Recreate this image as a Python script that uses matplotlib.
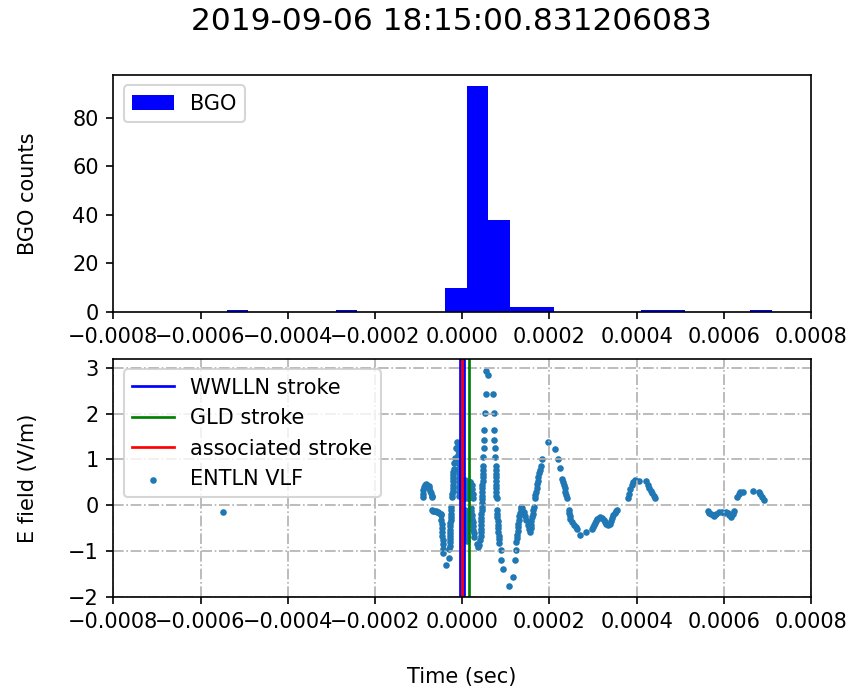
import matplotlib
matplotlib.use("Agg")
import matplotlib.pyplot as plt
import numpy as np

# ---------------- data ----------------
title_text = "2019-09-06 18:15:00.831206083"

# BGO histogram (bin left edges in seconds, counts)
bgo_bin_left = [-5.4e-4, -2.9e-4, -4e-5, 1e-5, 6e-5, 1.1e-4, 1.6e-4, 4.1e-4, 4.6e-4, 6.6e-4]
bgo_bin_width = 5e-5
bgo_counts = [1, 1, 10, 93, 38, 2, 2, 1, 1, 1]

# stroke times (seconds, relative)
wwlln_times = [-4.6e-6, 5.0e-6]
gld_times = [1.49e-5]
assoc_times = [0.0]

# ENTLN VLF E-field samples: time (microseconds) and value (V/m)
entln_t_us = [
    -548,
    -90, -89.5, -89, -88, -86, -83, -80, -77, -75, -73, -71, -69, -68,
    -69, -67, -64, -61, -58, -55, -52, -49,
    -48, -47.5, -47, -46.5, -46, -45.5, -45, -44.5, -44, -43.5, -38, -30, -30,
    -29, -29, -28.5, -28, -28, -27.5, -27, -27, -26.5, -26, -26, -25.5, -25,
    -23, -22.5, -22, -22, -21.5, -21, -21, -20.5, -20, -19.5, -18, -17, -14, -12,
    -9, -9, -8.5, -8.5, -8, -8, -8, -7.5, -7.5, -7, -7, -7,
    6, 6, 6.5, 7, 7, 7.5, 8, 8, 8.5, 9, 9, 9.5, 10, 10,
    14, 14, 14.5, 15, 17, 19, 22, 23, 24, 24.5,
    20, 21, 22, 23, 24, 25, 26, 27, 28, 33, 36, 39,
    42, 42.3, 42.6, 42.9, 43.2, 43.5, 43.8, 44.1, 44.4, 44.7, 45, 45.3, 45.6, 45.9,
    46.2, 46.5, 46.8, 47.1, 47.4, 47.7, 48,
    48.5, 49, 49.5, 50, 53, 54, 55, 59,
    70, 72, 73, 74, 75, 76,
    77, 77.2, 77.4, 77.6, 77.8, 78, 78.2, 78.4, 78.6, 78.8,
    80, 80.5, 81, 81.5, 82, 82.5, 83, 83.5, 84, 84.5,
    88, 90, 94, 107.5, 116.7, 120.6, 123,
    124, 125, 126, 127, 128, 129, 130, 131, 132, 134, 136,
    138, 141, 144, 147, 150, 153, 155,
    157, 158, 159, 160, 162, 163, 165,
    167, 168, 170, 171, 172, 174, 175, 176, 178, 180, 183, 198,
    212, 220, 224, 229, 231, 233, 235, 237, 239, 241, 245, 246, 247, 248, 252, 256,
    260, 263, 271, 283,
    298, 300, 302, 304, 306, 309, 313, 317, 321, 325, 328, 331, 334, 338, 341, 344,
    347, 350, 353, 356,
    380, 383, 386, 389, 392, 396, 405, 422, 426, 429, 432, 435, 439, 442,
    563, 567, 571, 575, 578, 582, 590, 595, 600, 605, 609, 613, 617, 620, 624,
    631, 634, 638, 645, 666, 681, 684, 688, 692,
]
entln_v = [
    -0.15,
    0.17, 0.25, 0.33, 0.40, 0.44, 0.46, 0.45, 0.43, 0.38, 0.32, 0.26, 0.20, 0.17,
    -0.10, -0.12, -0.12, -0.13, -0.14, -0.15, -0.17, -0.19,
    -0.22, -0.31, -0.40, -0.49, -0.58, -0.67, -0.76, -0.85, -0.95, -1.05, -1.30, -1.16, -0.95,
    -0.88, -0.81, -0.74, -0.67, -0.60, -0.53, -0.46, -0.39, -0.32, -0.25, -0.18, -0.11, -0.04,
    0.17, 0.24, 0.31, 0.38, 0.45, 0.52, 0.59, 0.66, 0.73, 0.80, 0.92, 1.03, 1.24, 1.38,
    1.30, 1.20, 1.10, 1.00, 0.90, 0.80, 0.70, 0.60, 0.50, 0.40, 0.30, 0.20,
    0.55, 0.45, 0.35, 0.25, 0.15, -0.10, -0.18, -0.26, -0.34, -0.42, -0.50, -0.58, -0.66, -0.78,
    0.15, 0.25, 0.35, 0.45, 0.51, 0.51, 0.45, 0.35, 0.25, 0.15,
    -0.05, -0.13, -0.21, -0.29, -0.37, -0.45, -0.53, -0.61, -0.69, -0.84, -0.91, -0.86,
    -0.75, -0.67, -0.59, -0.51, -0.43, -0.35, -0.27, -0.19, -0.11, -0.03, 0.05, 0.13, 0.21, 0.29,
    0.37, 0.45, 0.53, 0.61, 0.69, 0.77, 0.85,
    1.05, 1.24, 1.42, 1.64, 2.02, 2.42, 2.93, 2.84,
    2.42, 2.02, 1.64, 1.42, 1.24, 1.05,
    0.85, 0.77, 0.69, 0.61, 0.53, 0.45, 0.37, 0.29, 0.21, 0.15,
    -0.10, -0.18, -0.26, -0.34, -0.42, -0.50, -0.58, -0.66, -0.74, -0.82,
    -0.98, -1.19, -1.38, -1.76, -1.57, -1.19, -0.98,
    -0.80, -0.72, -0.64, -0.56, -0.48, -0.40, -0.32, -0.24, -0.16, -0.08, -0.03,
    -0.07, -0.15, -0.24, -0.33, -0.42, -0.51, -0.58,
    -0.50, -0.42, -0.34, -0.26, -0.18, -0.10, -0.03,
    0.15, 0.22, 0.30, 0.38, 0.46, 0.54, 0.62, 0.70, 0.78, 0.85, 1.02, 1.38,
    1.22, 1.02, 0.82, 0.58, 0.51, 0.44, 0.37, 0.30, 0.22, 0.15, -0.10, -0.17, -0.24, -0.29, -0.36, -0.42,
    -0.48, -0.51, -0.65, -0.58,
    -0.51, -0.47, -0.43, -0.39, -0.35, -0.30, -0.27, -0.26, -0.28, -0.33, -0.37, -0.40, -0.44, -0.40, -0.34,
    -0.28, -0.22, -0.17, -0.13, -0.10,
    0.15, 0.25, 0.35, 0.45, 0.50, 0.55, 0.53, 0.53, 0.45, 0.38, 0.32, 0.27, 0.20, 0.15,
    -0.13, -0.16, -0.19, -0.22, -0.24, -0.20, -0.14, -0.15, -0.17, -0.15, -0.16, -0.22, -0.25, -0.20, -0.13,
    0.18, 0.24, 0.28, 0.29, 0.31, 0.29, 0.25, 0.17, 0.12,
]

x_ticks = [-0.0008, -0.0006, -0.0004, -0.0002, 0.0, 0.0002, 0.0004, 0.0006, 0.0008]

# ---------------- figure ----------------
W, H, DPI = 854, 688, 150
fig = plt.figure(figsize=(W / DPI, H / DPI), dpi=DPI)

L = 113.3 / W
AW = (811 - 113.3) / W
ax1 = fig.add_axes([L, 1 - 312 / H, AW, (312 - 75) / H])
ax2 = fig.add_axes([L, 1 - 597 / H, AW, (597 - 359) / H])

# top: BGO histogram
ax1.bar(bgo_bin_left, bgo_counts, width=bgo_bin_width, align='edge',
        color='blue', label='BGO', linewidth=0)
ax1.set_xlim(-0.0008, 0.0008)
ax1.set_ylim(0, 97.7)
ax1.set_xticks(x_ticks)
ax1.set_ylabel('BGO counts')
ax1.yaxis.set_label_coords(-0.108, 0.5)
ax1.legend(loc='upper left')

# bottom: E field
for i, t in enumerate(wwlln_times):
    ax2.axvline(t, color='blue', lw=1.3, label='WWLLN stroke' if i == 0 else None)
for i, t in enumerate(gld_times):
    ax2.axvline(t, color='green', lw=1.3, label='GLD stroke' if i == 0 else None)
for i, t in enumerate(assoc_times):
    ax2.axvline(t, color='red', lw=1.3, label='associated stroke' if i == 0 else None)

t_sec = np.array(entln_t_us) * 1e-6
ax2.scatter(t_sec, entln_v, s=10, linewidths=0, color='C0', label='ENTLN VLF', zorder=1)
ax2.set_xlim(-0.0008, 0.0008)
ax2.set_ylim(-1.99, 3.19)
ax2.set_xticks(x_ticks)
ax2.set_yticks([-2, -1, 0, 1, 2, 3])
ax2.grid(True, linestyle='-.', color='#b0b0b0', linewidth=0.8)
ax2.set_ylabel('E field (V/m)')
ax2.yaxis.set_label_coords(-0.108, 0.5)
ax2.legend(loc='upper left')

fig.text(451 / W, 1 - 21 / H, title_text, ha='center', va='center', fontsize=15)
fig.text(462 / W, 1 - 677 / H, 'Time (sec)', ha='center', va='center', fontsize=10)

fig.savefig('out.png', dpi=DPI)
